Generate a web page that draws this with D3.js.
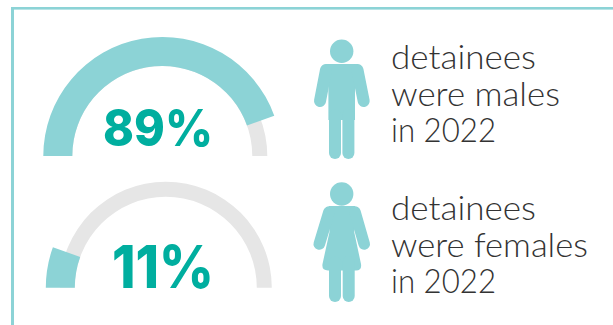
<!DOCTYPE html>
<html>
<head>
<meta charset="utf-8">
<script src="https://cdn.jsdelivr.net/npm/d3@7/dist/d3.min.js"></script>
<style>
html,body{margin:0;padding:0;background:#fff}
svg{display:block}
</style>
</head>
<body>
<svg id="chart" width="613" height="325"></svg>
<script>
const shares = [89, 11];
const genders = ["male", "female"];
const captions = [
  ["detainees", "were males", "in 2022"],
  ["detainees", "were females", "in 2022"]
];
const captionWidths = [[145, 169, 105], [145, 197, 105]];

const teal = "#8cd3d6", grey = "#e6e6e6", strong = "#00ae9f", ink = "#333333";
const bold = "Inter, 'Open Sans', sans-serif";
const light = "Lato, 'Open Sans', sans-serif";

const rows = [
  {cx: 162.3, cy: 156, inner: 90, track: 105, outer: 119, textY: 69},
  {cx: 165.8, cy: 287.8, inner: 91, track: 106, outer: 120, textY: 220}
];

const svg = d3.select("#chart");

// Frame: a top rule and a left rule
svg.append("rect").attr("x", 11).attr("y", 7).attr("width", 602).attr("height", 2.6).attr("fill", teal);
svg.append("rect").attr("x", 11).attr("y", 7).attr("width", 3).attr("height", 318).attr("fill", teal);

// Gauge runs over the upper half circle
const angle = d3.scaleLinear().domain([0, 100]).range([-Math.PI / 2, Math.PI / 2]);

rows.forEach((row, i) => {
  const g = svg.append("g").attr("transform", `translate(${row.cx},${row.cy})`);
  g.append("path")
    .attr("d", d3.arc()({innerRadius: row.inner, outerRadius: row.track, startAngle: angle(0), endAngle: angle(100)}))
    .attr("fill", grey);
  g.append("path")
    .attr("d", d3.arc()({innerRadius: row.inner, outerRadius: row.outer, startAngle: angle(0), endAngle: angle(shares[i])}))
    .attr("fill", teal);
});

// Percentage labels
const valueBoxes = [{x: 103, w: 110, y: 145.5, size: 51}, {x: 112, w: 102, y: 288, size: 59}];
shares.forEach((v, i) => {
  svg.append("text")
    .attr("x", valueBoxes[i].x).attr("y", valueBoxes[i].y)
    .attr("textLength", valueBoxes[i].w).attr("lengthAdjust", "spacingAndGlyphs")
    .attr("font-family", bold).attr("font-weight", 800).attr("font-size", valueBoxes[i].size)
    .attr("fill", strong)
    .text(v + "%");
});

// Person glyphs
function limb(x0, y0, x1, y1, w) {
  return svg.append("line").attr("x1", x0).attr("y1", y0).attr("x2", x1).attr("y2", y1)
    .attr("stroke", teal).attr("stroke-width", w).attr("stroke-linecap", "round");
}
function man() {
  svg.append("circle").attr("cx", 341.7).attr("cy", 51.3).attr("r", 11.7).attr("fill", teal);
  svg.append("path").attr("fill", teal)
    .attr("d", "M326 64H358V80L355 82V120H328.4V82L326 80Z");
  limb(326, 70, 320, 101, 12);
  limb(357.5, 70, 363.7, 101, 12);
  limb(335, 115, 335, 153, 12);
  limb(348.4, 115, 348.4, 153, 12);
}
function woman() {
  svg.append("circle").attr("cx", 341.7).attr("cy", 194).attr("r", 11.7).attr("fill", teal);
  svg.append("path").attr("fill", teal)
    .attr("d", "M329 206H355V218L354.2 232L361 264Q362 270.5 356 270.5H328Q321.5 270.5 322.5 264L329.5 232L329 218Z");
  limb(329, 212, 319.3, 244, 11.6);
  limb(355, 212, 364.2, 244, 11.6);
  limb(335, 262, 335, 296, 12);
  limb(348.7, 262, 348.7, 296, 12);
}
genders.forEach(g => g === "male" ? man() : woman());

// Captions
captions.forEach((lines, i) => {
  lines.forEach((line, j) => {
    svg.append("text")
      .attr("x", 391).attr("y", rows[i].textY + j * 36.5)
      .attr("textLength", captionWidths[i][j]).attr("lengthAdjust", "spacingAndGlyphs")
      .attr("font-family", light).attr("font-weight", 300).attr("font-size", 33)
      .attr("fill", ink)
      .text(line);
  });
});
</script>
</body>
</html>
